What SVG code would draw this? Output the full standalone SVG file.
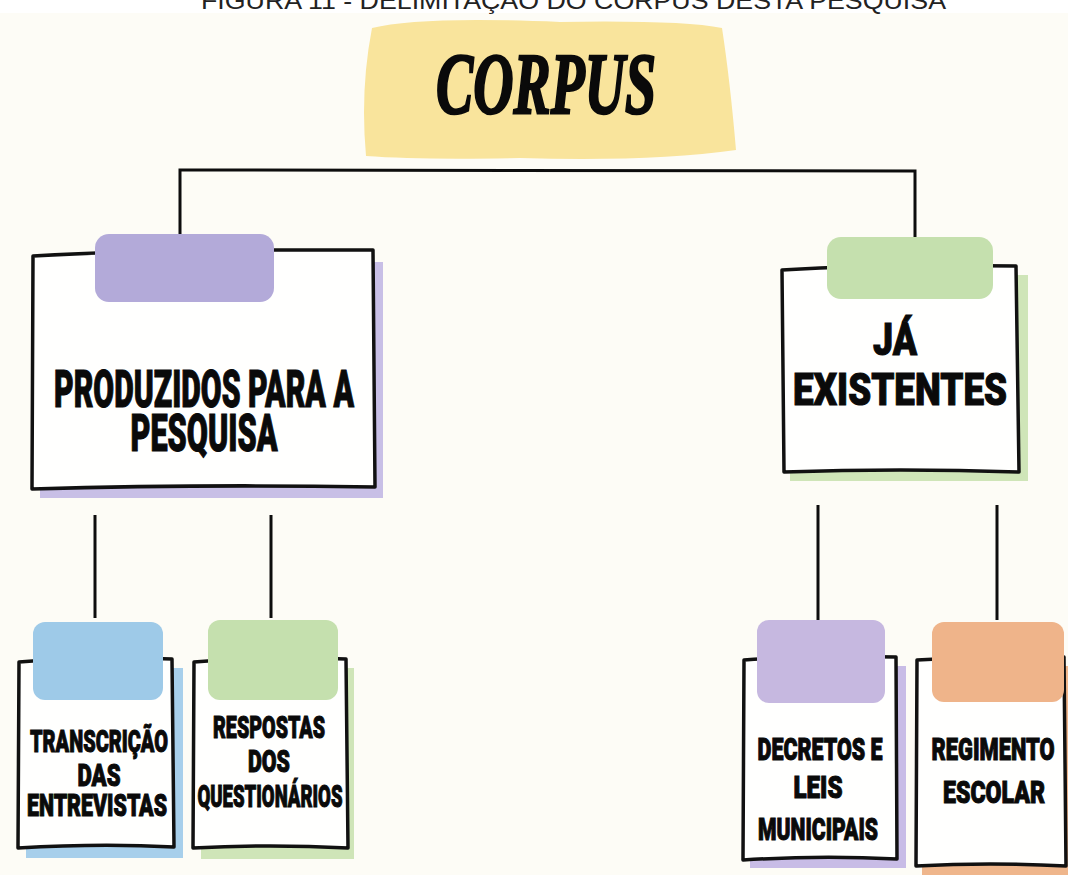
<svg xmlns="http://www.w3.org/2000/svg" width="1068" height="875" viewBox="0 0 1068 875">
<style>
.box{fill:#FFFFFE;stroke:#111;stroke-width:3.5;stroke-linejoin:round}
.lbl{font-family:Roboto,"Liberation Sans",sans-serif;font-weight:900;fill:#0a0a0a;stroke:#0a0a0a;stroke-width:1.1;text-anchor:middle}
.sm{font-size:32px}
.conn{stroke:#0d0d0d;stroke-width:3;fill:none}
</style>
<rect x="0" y="0" width="1068" height="875" fill="#FFFFFF"/>
<rect x="0" y="13" width="1068" height="862" fill="#FDFCF6"/>
<text x="201" y="9" textLength="745" lengthAdjust="spacingAndGlyphs" font-family="'Liberation Sans',Arial,sans-serif" font-size="24" fill="#222">FIGURA 11 - DELIMITAÇÃO DO CORPUS DESTA PESQUISA</text>

<g id="connectors">
<path class="conn" d="M180,245 L180,170 L915,171 L915,238" stroke-width="3.5"/>
<path class="conn" d="M95,515 L95,618"/>
<path class="conn" d="M271,515 L271,618"/>
<path class="conn" d="M818,505 L818,620"/>
<path class="conn" d="M997,505 L997,620"/>
</g>

<g id="corpus">
<path d="M372,28 Q420,16 560,22 Q680,20 722,28 Q730,80 736,150 Q650,162 520,158 Q420,160 366,156 Q360,90 372,28 Z" fill="#F9E49C"/>
<text x="546" y="113" textLength="220" lengthAdjust="spacingAndGlyphs" font-family="'Liberation Serif',serif" font-weight="bold" font-style="italic" font-size="86" fill="#0a0a0a" stroke="#0a0a0a" stroke-width="2.5" text-anchor="middle">CORPUS</text>
</g>

<g id="produzidos">
<rect x="40" y="262" width="343" height="236" fill="#C8BFE6"/>
<path class="box" d="M33,256 Q150,249 373,250 L375,487 Q200,484 32,489 Z"/>
<rect x="95" y="234" width="179" height="68" rx="14" fill="#B3AAD9"/>
<text class="lbl" x="204" y="407" font-size="51" textLength="300" lengthAdjust="spacingAndGlyphs">PRODUZIDOS PARA A</text>
<text class="lbl" x="204" y="451" font-size="51" textLength="147" lengthAdjust="spacingAndGlyphs">PESQUISA</text>
</g>

<g id="existentes">
<rect x="790" y="275" width="238" height="206" fill="#CFE5B8"/>
<path class="box" d="M782,270 Q880,264 1016,266 L1019,472 Q900,468 784,472 Z"/>
<rect x="827" y="237" width="166" height="62" rx="14" fill="#C5E0AE"/>
<text class="lbl" x="895" y="355" font-size="45" textLength="44" lengthAdjust="spacingAndGlyphs">JÁ</text>
<text class="lbl" x="900" y="405" font-size="45" textLength="214" lengthAdjust="spacingAndGlyphs">EXISTENTES</text>
</g>

<g id="transcricao">
<rect x="26" y="668" width="157" height="190" fill="#A7CFEB"/>
<path class="box" d="M19,662 Q90,656 172,659 L174,847 Q100,843 18,848 Z"/>
<rect x="33" y="622" width="130" height="78" rx="12" fill="#9ECAE8"/>
<text class="lbl sm" x="99" y="752" textLength="138" lengthAdjust="spacingAndGlyphs">TRANSCRIÇÃO</text>
<text class="lbl sm" x="99" y="786" textLength="43" lengthAdjust="spacingAndGlyphs">DAS</text>
<text class="lbl sm" x="97" y="816" textLength="140" lengthAdjust="spacingAndGlyphs">ENTREVISTAS</text>
</g>

<g id="respostas">
<rect x="201" y="668" width="153" height="191" fill="#CFE5B8"/>
<path class="box" d="M194,662 Q270,656 346,659 L348,848 Q270,844 193,848 Z"/>
<rect x="208" y="620" width="130" height="80" rx="12" fill="#C5E0AE"/>
<text class="lbl sm" x="269" y="738" textLength="112" lengthAdjust="spacingAndGlyphs">RESPOSTAS</text>
<text class="lbl sm" x="269" y="772" textLength="42" lengthAdjust="spacingAndGlyphs">DOS</text>
<text class="lbl sm" x="270" y="807" textLength="145" lengthAdjust="spacingAndGlyphs">QUESTIONÁRIOS</text>
</g>

<g id="decretos">
<rect x="750" y="666" width="156" height="202" fill="#C8BCE6"/>
<path class="box" d="M744,660 Q820,655 896,657 L897,859 Q820,855 743,860 Z"/>
<rect x="757" y="620" width="128" height="83" rx="12" fill="#C6B8E0"/>
<text class="lbl sm" x="820" y="760" textLength="125" lengthAdjust="spacingAndGlyphs">DECRETOS E</text>
<text class="lbl sm" x="818" y="798" textLength="49" lengthAdjust="spacingAndGlyphs">LEIS</text>
<text class="lbl sm" x="818" y="840" textLength="120" lengthAdjust="spacingAndGlyphs">MUNICIPAIS</text>
</g>

<g id="regimento">
<rect x="922" y="666" width="150" height="210" fill="#EFB68C"/>
<path class="box" d="M917,660 Q990,655 1064,657 L1066,866 Q990,862 916,866 Z"/>
<rect x="932" y="622" width="132" height="80" rx="12" fill="#EFB48A"/>
<text class="lbl sm" x="993" y="760" textLength="123" lengthAdjust="spacingAndGlyphs">REGIMENTO</text>
<text class="lbl sm" x="994" y="803" textLength="102" lengthAdjust="spacingAndGlyphs">ESCOLAR</text>
</g>
</svg>
